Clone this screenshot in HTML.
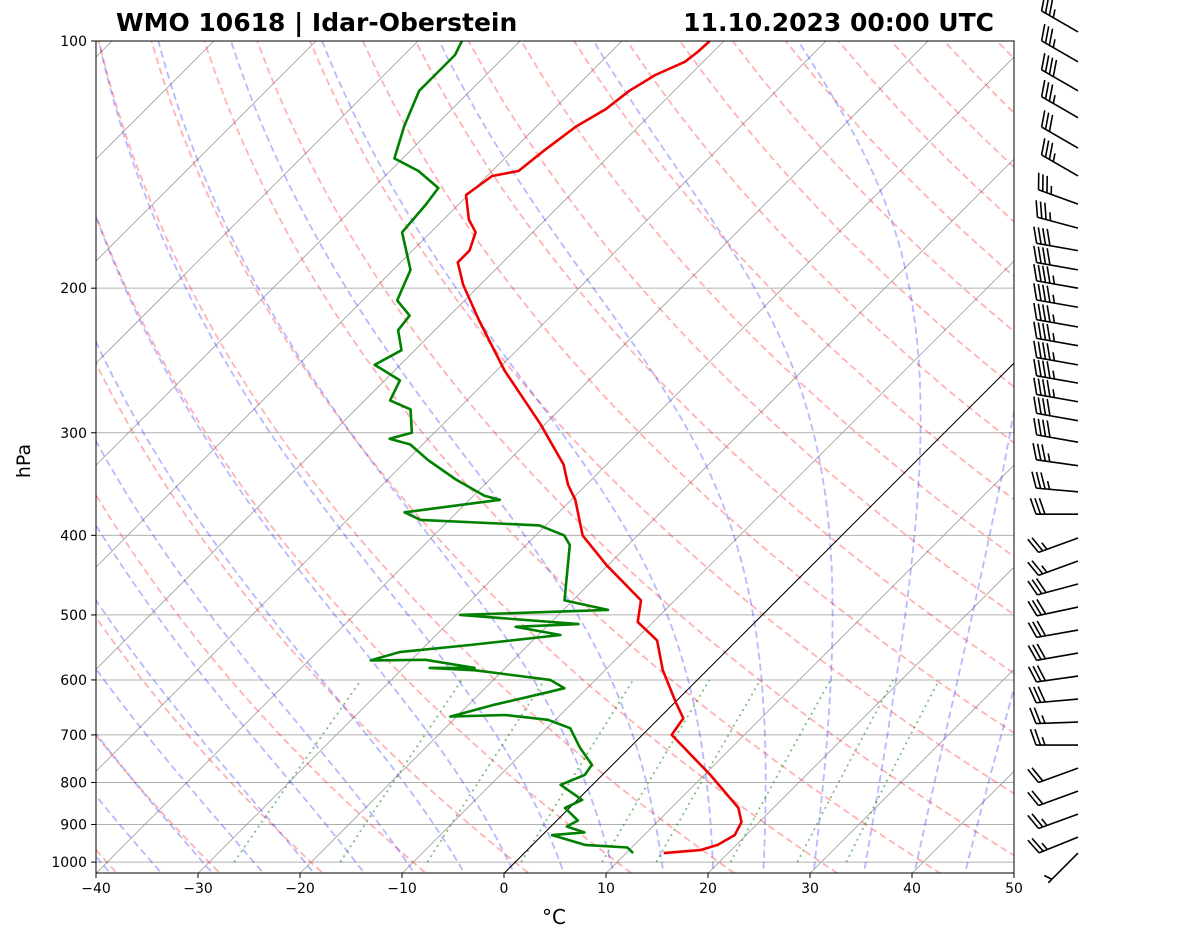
<!DOCTYPE html>
<html><head><meta charset="utf-8"><style>
body{margin:0;background:#fff;}
svg{display:block;font-family:"DejaVu Sans","Liberation Sans",sans-serif;}
</style></head><body>
<svg id="chart" width="1181" height="941" viewBox="0 0 1181 941">
<defs><clipPath id="plot-clip"><rect x="96" y="41" width="918" height="832"/></clipPath></defs>
<rect x="0" y="0" width="1181" height="941" fill="#fff"/>
<g id="bg" clip-path="url(#plot-clip)"></g>
<g id="series" clip-path="url(#plot-clip)"></g>
<rect x="96" y="41" width="918" height="832" fill="none" stroke="#000" stroke-width="1"/>
<g id="axes"></g>
<g id="barbs"></g>
<text x="116" y="31" font-size="25" font-weight="bold">WMO 10618 | Idar-Oberstein</text>
<text x="994" y="31" font-size="25" font-weight="bold" text-anchor="end">11.10.2023 00:00 UTC</text>
<text x="30" y="461" font-size="19" text-anchor="middle" transform="rotate(-90 30 461)">hPa</text>
<text x="554" y="924" font-size="20" text-anchor="middle">°C</text>
</svg>
<script>
const tempP=[975,967,953,927,894,859,783,700,668,640,584,537,510,480,435,400,362,347,328,293,252,219,198,186,180,171,165,154,146,144,136,127,121,115,110,106,103,100];
const tempT=[13.7,17.0,18.2,18.9,18.3,16.6,10.6,2.9,2.4,0.2,-4.3,-7.8,-11.5,-13.3,-20.1,-25.4,-29.6,-31.8,-34.2,-40.4,-49.2,-56.6,-61.7,-64.4,-64.4,-65.6,-67.5,-70.2,-69.5,-67.4,-66.9,-66.1,-64.9,-64.4,-63.4,-61.8,-61.5,-61.4];
const dewP=[975,960,953,927,920,905,890,859,840,805,783,761,726,687,671,662,665,644,622,614,600,584,580,580,567,568,555,544,529,517,513,500,493,480,411,400,389,383,375,362,358,342,324,310,305,300,281,274,259,252,248,238,225,216,207,190,171,158,151,144,139,127,115,110,104,100];
const dewT=[10.7,9.6,5.2,1.0,3.9,1.6,2.1,-0.4,0.5,-3.1,-1.7,-2.0,-4.8,-7.7,-10.7,-15.4,-20.6,-17.6,-13.6,-12.2,-14.4,-22.7,-27.4,-23.0,-28.6,-33.9,-31.9,-25.7,-17.8,-23.0,-17.1,-29.6,-15.6,-20.8,-25.7,-27.2,-30.6,-42.8,-45.1,-37.0,-38.9,-43.3,-47.9,-51.2,-53.8,-52.2,-54.6,-57.5,-58.5,-61.0,-62.5,-61.3,-63.6,-63.9,-66.6,-68.3,-72.8,-73.2,-73.6,-77.2,-80.8,-83.0,-85.0,-85.0,-85.0,-85.7];
const windP=[97.5,106,115,124,135,146,158,169,180,190,200,211,223,235,248,261,275,290,308,329,354,377,403,429.9,458.5,489.1,521.7,556.4,593.5,633.1,675.3,720.3,768.3,819.5,874.1,932.4,975];
const windDir=[300,300,300,300,300,300,290,285,280,280,280,280,280,280,280,280,280,280,280,278,275,270,250,250,255,258,260,260,262,265,268,270,250,250,250,248,225];
const windSpd=[35,35,40,35,30,35,35,35,40,40,45,45,45,45,45,45,45,40,40,35,35,30,25,25,30,30,30,30,30,30,25,25,20,20,25,25,5];
const yTicks=[100,200,300,400,500,600,700,800,900,1000];
const xTicks=[-40,-30,-20,-10,0,10,20,30,40,50];

const NS='http://www.w3.org/2000/svg';
const X0=96,XR=1014,Y0=41,YB=873,K=356.6,SX=10.2;
function yP(p){return Y0+K*Math.log(p/100);}
function xT(T,p){return X0+(T+40)*SX+(YB-yP(p));}
function mk(tag,attrs,parent){const e=document.createElementNS(NS,tag);for(const k in attrs)e.setAttribute(k,attrs[k]);parent.appendChild(e);return e;}
const bg=document.getElementById('bg'),ser=document.getElementById('series'),ax=document.getElementById('axes'),bb=document.getElementById('barbs');
function poly(pts){return pts.map(p=>p[0].toFixed(1)+','+p[1].toFixed(1)).join(' ');}

yTicks.forEach(p=>{const l=mk('line',{x1:X0,x2:XR,y1:yP(p),y2:yP(p),stroke:'#b0b0b0','stroke-width':1},bg);

});
for(let T=-160;T<=50;T+=10){const l=mk('line',{x1:xT(T,1030),y1:YB,x2:xT(T,100),y2:Y0,stroke:'#999','stroke-width':0.8},bg);

}
const plev=[];for(let p=1050;p>=100;p-=10)plev.push(p);
for(let th=-40;th<=200;th+=10){const pts=plev.map(p=>[xT((th+273.15)*Math.pow(p/1000,0.2857)-273.15,p),yP(p)]);
const l=mk('polyline',{points:poly(pts),fill:'none',stroke:'#ff0000','stroke-opacity':0.3,'stroke-width':1.8,'stroke-dasharray':'7,4'},bg);

}
function es(Tc){return 6.112*Math.exp(17.67*Tc/(Tc+243.5));}
function dTdp(T,p){const Tc=T-273.15;const e=es(Tc);const rs=0.622*e/(p-e);const Rd=287,Lv=2.501e6,Cp=1005;
return (1/p)*(Rd*T+Lv*rs)/(Cp+Lv*Lv*rs*0.622/(Rd*T*T));}
for(let t0=-40.6;t0<=45;t0+=5){let pts=[];let T=t0+273.15;
for(let p=1000;p>=100;p-=5){pts.push([xT(T-273.15,p),yP(p)]);T-=dTdp(T,p)*5;}
T=t0+273.15;const lo=[];for(let p=1000;p<=1050;p+=5){lo.unshift([xT(T-273.15,p),yP(p)]);T+=dTdp(T,p)*5;}
pts=lo.concat(pts);
const l=mk('polyline',{points:poly(pts),fill:'none',stroke:'#0000ff','stroke-opacity':0.28,'stroke-width':1.8,'stroke-dasharray':'7,4'},bg);

}
[0.0004,0.001,0.002,0.004,0.007,0.01,0.016,0.024,0.032].forEach(w=>{const pts=[];for(let p=1000;p>=600;p-=20){const e=w*p/(0.622+w);const L=Math.log(e/6.112);const Td=243.5*L/(17.67-L);pts.push([xT(Td,p),yP(p)]);}
const l=mk('polyline',{points:poly(pts),fill:'none',stroke:'#008000','stroke-opacity':0.5,'stroke-width':1.8,'stroke-dasharray':'2,4'},bg);

});
const z=mk('line',{x1:xT(0,1030),y1:YB,x2:xT(0,100),y2:Y0,stroke:'#000','stroke-width':1},bg);


const tl=mk('polyline',{points:poly(tempP.map((p,i)=>[xT(tempT[i],p),yP(p)])),fill:'none',stroke:'#ee0000','stroke-width':2.6,'stroke-linejoin':'round'},ser);


const dl=mk('polyline',{points:poly(dewP.map((p,i)=>[xT(dewT[i],p),yP(p)])),fill:'none',stroke:'#008000','stroke-width':2.6,'stroke-linejoin':'round'},ser);


yTicks.forEach(p=>{const y=yP(p);mk('line',{x1:X0-5,x2:X0,y1:y,y2:y,stroke:'#000'},ax);
const t=mk('text',{x:X0-9,y:y+5,'font-size':14,'text-anchor':'end'},ax);t.textContent=p;

});
xTicks.forEach(T=>{const x=X0+(T+40)*SX;mk('line',{x1:x,x2:x,y1:YB,y2:YB+5,stroke:'#000'},ax);
const t=mk('text',{x:x,y:YB+20,'font-size':14,'text-anchor':'middle'},ax);t.textContent=(T<0?'\u2212'+(-T):T);

});
windP.forEach((p,i)=>{const bx=1078,by=yP(p);const d=windDir[i]*Math.PI/180;const ux=Math.sin(d),uy=-Math.cos(d);
const Lst=42;const tx=bx+ux*Lst,ty=by+uy*Lst;const px=-uy,py=ux;
const g=mk('g',{},bb);


mk('line',{x1:bx,y1:by,x2:tx,y2:ty,stroke:'#000','stroke-width':1.6},g);
let s=windSpd[i];let pos=0;const bl=16;
const nFull=Math.floor(s/10);const half=(s%10)>=5;
for(let k=0;k<nFull;k++){const sx=tx-ux*pos,sy=ty-uy*pos;mk('line',{x1:sx,y1:sy,x2:sx+px*bl+ux*bl*0.35,y2:sy+py*bl+uy*bl*0.35,stroke:'#000','stroke-width':1.6},g);pos+=4.5;}
if(half){if(nFull==0)pos=5;const sx=tx-ux*pos,sy=ty-uy*pos;mk('line',{x1:sx,y1:sy,x2:sx+px*bl*0.5+ux*bl*0.17,y2:sy+py*bl*0.5+uy*bl*0.17,stroke:'#000','stroke-width':1.6},g);}
});
</script>
</body></html>
